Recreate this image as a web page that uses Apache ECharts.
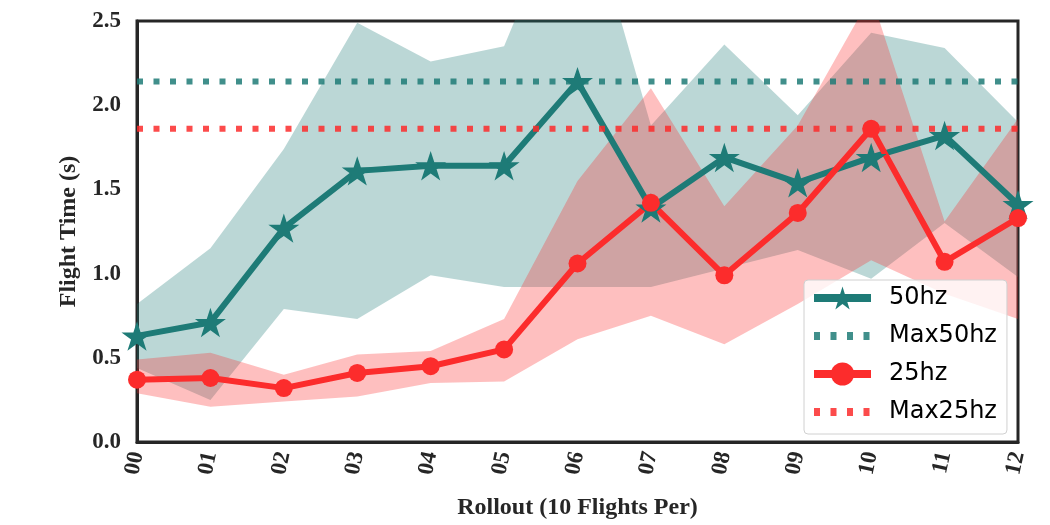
<!DOCTYPE html>
<html>
<head>
<meta charset="utf-8">
<script src="https://cdn.jsdelivr.net/npm/echarts@6/dist/echarts.min.js"></script>
<style>
  html, body { margin: 0; padding: 0; background: #fff; }
  #main { width: 1050px; height: 525px; }
</style>
</head>
<body>
<div id="main"></div>
<script>
var rollouts = ['00', '01', '02', '03', '04', '05', '06', '07', '08', '09', '10', '11', '12'];

// mean flight time per rollout
var hz50 = [0.63, 0.71, 1.27, 1.61, 1.64, 1.64, 2.14, 1.39, 1.69, 1.54, 1.69, 1.82, 1.41];
var hz25 = [0.37, 0.38, 0.32, 0.41, 0.45, 0.55, 1.06, 1.42, 0.99, 1.36, 1.86, 1.07, 1.33];

// shaded spread (upper / lower edge)
var hz50_hi = [0.82, 1.15, 1.74, 2.49, 2.26, 2.35, 3.40, 1.88, 2.36, 1.94, 2.43, 2.34, 1.90];
var hz50_lo = [0.44, 0.25, 0.79, 0.73, 0.99, 0.92, 0.92, 0.92, 1.03, 1.14, 0.97, 1.30, 0.98];
var hz25_hi = [0.49, 0.53, 0.40, 0.52, 0.54, 0.73, 1.55, 2.10, 1.40, 1.88, 2.65, 1.31, 1.92];
var hz25_lo = [0.29, 0.21, 0.24, 0.27, 0.35, 0.36, 0.61, 0.75, 0.58, 0.82, 1.08, 0.88, 0.73];

var yTicks = [0, 0.5, 1.0, 1.5, 2.0, 2.5];

var max50 = Math.max.apply(null, hz50);
var max25 = Math.max.apply(null, hz25);

var TEAL = '#1e7b77';
var RED = '#fc2c2c';
var STAR = 'path://M50,0 L61.2,34.5 L97.6,34.5 L68.2,55.9 L79.4,90.5 L50,69.1 L20.6,90.5 L31.8,55.9 L2.4,34.5 L38.8,34.5 Z';
var serif = 'Liberation Serif';

function band(lo, hi, stack, color) {
    var diff = hi.map(function (v, i) { return v - lo[i]; });
    return [{
        type: 'line', stack: stack, data: lo, symbol: 'none', silent: true,
        lineStyle: { opacity: 0 }
    }, {
        type: 'line', stack: stack, data: diff, symbol: 'none', silent: true,
        lineStyle: { opacity: 0 },
        areaStyle: { color: color, opacity: 1 }
    }];
}

var myChart = echarts.init(document.getElementById('main'));

option = {
    animation: false,
    grid: {
        left: 137, right: 32, top: 21, bottom: 82,
        show: true, borderColor: '#262626', borderWidth: 3
    },
    legend: {
        orient: 'vertical',
        left: 804, top: 280,
        padding: [6, 10, 10, 6],
        itemWidth: 57, itemHeight: 29, itemGap: 14,
        backgroundColor: 'rgba(255,255,255,0.8)',
        borderColor: '#d0d0d0', borderWidth: 1, borderRadius: 4,
        lineStyle: { width: 8 },
        textStyle: { fontFamily: 'DejaVu Sans', fontSize: 24, color: '#000', padding: [0, 0, 0, 13] },
        data: [
            { name: '50hz' },
            { name: 'Max50hz', itemStyle: { color: 'rgba(0,0,0,0)', borderWidth: 0 } },
            { name: '25hz' },
            { name: 'Max25hz', itemStyle: { color: 'rgba(0,0,0,0)', borderWidth: 0 } }
        ]
    },
    xAxis: {
        type: 'category',
        data: rollouts,
        boundaryGap: false,
        name: 'Rollout (10 Flights Per)',
        nameLocation: 'middle',
        nameGap: 54,
        nameTextStyle: { fontFamily: serif, fontWeight: 'bold', fontSize: 24, color: '#262626' },
        axisLine: { lineStyle: { color: '#262626', width: 3 } },
        axisTick: { show: false },
        axisLabel: { rotate: 78, margin: 10, fontFamily: serif, fontWeight: 'bold', fontSize: 23, color: '#262626' },
        splitLine: { show: false }
    },
    yAxis: {
        type: 'value',
        min: yTicks[0], max: yTicks[yTicks.length - 1], interval: 0.5,
        name: 'Flight Time (s)',
        nameLocation: 'middle',
        nameGap: 56,
        nameTextStyle: { fontFamily: serif, fontWeight: 'bold', fontSize: 24, color: '#262626' },
        axisLine: { show: true, lineStyle: { color: '#262626', width: 3 } },
        axisTick: { show: false },
        axisLabel: {
            margin: 16, fontFamily: serif, fontWeight: 'bold', fontSize: 23, color: '#262626',
            formatter: function (v) { return v.toFixed(1); }
        },
        splitLine: { show: false }
    },
    series: [].concat(
        band(hz50_lo, hz50_hi, 'b50', 'rgba(30,123,119,0.3)'),
        band(hz25_lo, hz25_hi, 'b25', 'rgba(252,44,44,0.3)'),
        [{
            name: '50hz', type: 'line', data: hz50,
            symbol: STAR, symbolSize: 31, symbolKeepAspect: true,
            itemStyle: { color: TEAL },
            lineStyle: { color: TEAL, width: 6 }
        }, {
            name: 'Max50hz', type: 'line',
            data: rollouts.map(function () { return max50; }),
            symbol: 'none',
            itemStyle: { color: TEAL },
            lineStyle: { color: TEAL, width: 6, type: [6, 10.5], opacity: 0.85 }
        }, {
            name: '25hz', type: 'line', data: hz25,
            symbol: 'circle', symbolSize: 18,
            itemStyle: { color: RED },
            lineStyle: { color: RED, width: 6 }
        }, {
            name: 'Max25hz', type: 'line',
            data: rollouts.map(function () { return max25; }),
            symbol: 'none',
            itemStyle: { color: RED },
            lineStyle: { color: RED, width: 6, type: [6, 10.5], opacity: 0.85 }
        }]
    )
};

myChart.setOption(option);
</script>
</body>
</html>
